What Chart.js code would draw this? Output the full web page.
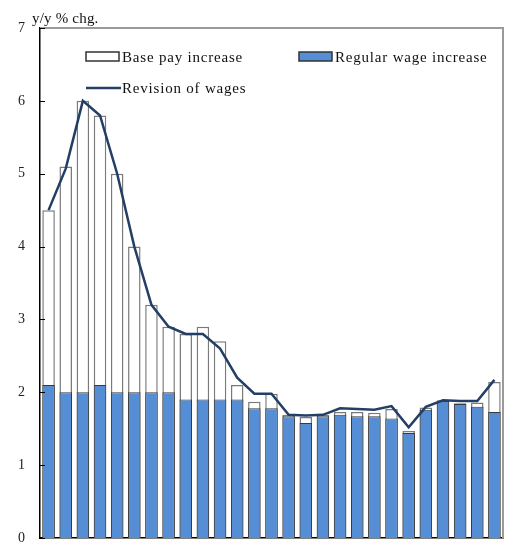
<!DOCTYPE html>
<html lang="en">
  <head>
    <meta charset="UTF-8" />
    <title>Wage revision</title>
    <style>
      html, body { margin: 0; padding: 0; background: #fff; }
      #box { width: 505px; height: 545px; }
    </style>
  </head>
  <body>
    <div id="box"><canvas id="chartJSContainer"></canvas></div>
    <script src="https://cdn.jsdelivr.net/npm/chart.js@4.4.1/dist/chart.umd.min.js"></script>
    <script>
      const categories = ['1','2','3','4','5','6','7','8','9','10','11','12','13','14',
                          '15','16','17','18','19','20','21','22','23','24','25','26','27'];
      // top of the white bars
      const basePay = [4.5, 5.1, 6.0, 5.8, 5.0, 4.0, 3.2, 2.9, 2.8, 2.9, 2.7, 2.1, 1.87, 1.98,
                       1.69, 1.66, 1.69, 1.73, 1.73, 1.72, 1.77, 1.47, 1.79, 1.89, 1.85, 1.86, 2.14];
      const regular = [2.1, 2.0, 2.0, 2.1, 2.0, 2.0, 2.0, 2.0, 1.9, 1.9, 1.9, 1.9, 1.78, 1.78,
                       1.67, 1.58, 1.67, 1.69, 1.67, 1.67, 1.64, 1.44, 1.76, 1.88, 1.84, 1.80, 1.73];
      const revision = [4.5, 5.07, 6.0, 5.8, 5.0, 4.0, 3.2, 2.9, 2.8, 2.8, 2.6, 2.2, 1.98, 1.98,
                        1.69, 1.68, 1.69, 1.78, 1.77, 1.76, 1.81, 1.52, 1.8, 1.89, 1.88, 1.88, 2.17];
      const yTicks = [0, 1, 2, 3, 4, 5, 6, 7];

      const serif = '"Liberation Serif", "DejaVu Serif", serif';
      const blue = '#558ED5';
      const navy = '#243F66';

      const frame = {
        id: 'frame',
        afterDraw: (chart) => {
          const { ctx, chartArea: a, scales: { y } } = chart;
          ctx.save();
          // top and right border
          ctx.strokeStyle = '#9a9a9a';
          ctx.lineWidth = 2;
          ctx.beginPath();
          ctx.moveTo(a.left, a.top);
          ctx.lineTo(a.right, a.top);
          ctx.lineTo(a.right, a.bottom);
          ctx.stroke();
          // inner tick marks
          ctx.strokeStyle = '#000';
          ctx.lineWidth = 1;
          yTicks.forEach(v => {
            const py = Math.round(y.getPixelForValue(v)) + 0.5;
            ctx.beginPath();
            ctx.moveTo(a.left, py);
            ctx.lineTo(a.left + 5, py);
            ctx.stroke();
          });
          // unit label
          ctx.fillStyle = '#111';
          ctx.font = '15px ' + serif;
          ctx.letterSpacing = '0.2px';
          ctx.textBaseline = 'alphabetic';
          ctx.textAlign = 'left';
          ctx.fillText('y/y % chg.', 32, 23);

          // legend
          ctx.font = '15px ' + serif;
          ctx.letterSpacing = '0.8px';
          ctx.lineWidth = 1.5;
          ctx.strokeStyle = '#333';
          ctx.fillStyle = '#fff';
          ctx.fillRect(86, 52, 33, 9);
          ctx.strokeRect(86, 52, 33, 9);
          ctx.fillStyle = blue;
          ctx.fillRect(299, 52, 33, 9);
          ctx.strokeRect(299, 52, 33, 9);
          ctx.strokeStyle = navy;
          ctx.lineWidth = 2.5;
          ctx.beginPath();
          ctx.moveTo(86, 88);
          ctx.lineTo(121, 88);
          ctx.stroke();
          ctx.fillStyle = '#111';
          ctx.fillText('Base pay increase', 122, 62);
          ctx.fillText('Regular wage increase', 335, 62);
          ctx.fillText('Revision of wages', 122, 93);
          ctx.restore();
        }
      };

      const data = {
        labels: categories,
        datasets: [
          {
            type: 'line',
            label: 'Revision of wages',
            data: revision,
            borderColor: navy,
            borderWidth: 2.5,
            pointRadius: 0,
            tension: 0,
            order: 0
          },
          {
            label: 'Regular wage increase',
            data: regular,
            backgroundColor: blue,
            borderColor: '#3a3a3a',
            borderWidth: 1,
            barPercentage: 0.73,
            categoryPercentage: 1,
            order: 1
          },
          {
            label: 'Base pay increase',
            data: basePay,
            backgroundColor: '#fff',
            borderColor: '#7a7a7a',
            borderWidth: 1.5,
            barPercentage: 0.73,
            categoryPercentage: 1,
            order: 2
          }
        ]
      };

      const options = {
        responsive: true,
        maintainAspectRatio: false,
        animation: false,
        layout: { padding: { top: 28, right: 2, left: 0, bottom: 0 } },
        scales: {
          x: {
            stacked: true,
            grid: { display: false },
            ticks: { display: false },
            border: { color: '#000', width: 1.5 },
            afterFit: (s) => { s.height = 7; }
          },
          y: {
            stacked: false,
            min: 0,
            max: 7,
            afterBuildTicks: (s) => { s.ticks = yTicks.map(v => ({ value: v })); },
            grid: { display: false, drawTicks: false },
            border: { color: '#000', width: 1.5 },
            ticks: {
              padding: 15,
              color: '#222',
              font: { family: serif, size: 14 }
            },
            afterFit: (s) => {
              s.width = 40;
              s.paddingTop = 0;
              s.paddingBottom = 0;
            }
          }
        },
        plugins: {
          legend: { display: false },
          tooltip: { enabled: false }
        }
      };

      new Chart(document.getElementById('chartJSContainer'), {
        type: 'bar',
        data,
        options,
        plugins: [frame]
      });
    </script>
  </body>
</html>
